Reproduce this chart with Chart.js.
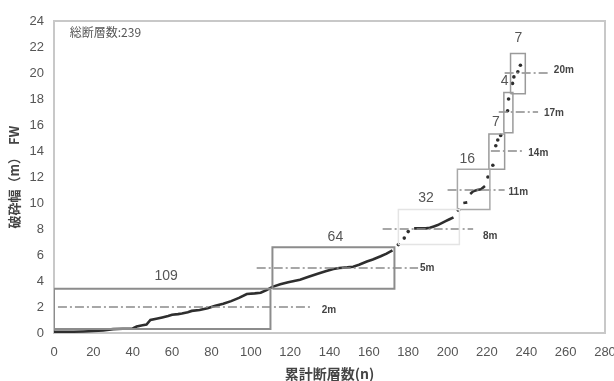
<!DOCTYPE html>
<html>
<head>
<meta charset="utf-8">
<script src="https://cdn.jsdelivr.net/npm/chart.js@4.4.1/dist/chart.umd.min.js"></script>
<style>
  html, body { margin: 0; padding: 0; background: #fff; }
  #wrap { width: 614px; height: 381px; }
</style>
</head>
<body>
<div id="wrap"><canvas id="grafik"></canvas></div>
<script>
// 累計断層数 n と 破砕幅 FW (null = 線の切れ目)
const curveN = [0, 5, 10, 15, 20, 25, 30, 35, 40, 42, 45, 47, 49, 52, 55, 58, 60, 63, 65, 68, 70, 74, 78, 82, 86, 90, 94, 98, 102, 105, 108, 111, 115, 119, 122, 125, 129, 134, 138, 142, 145, 149, 152, 155, 159, 162, 166, 169, 172,
  null, 183, 186, 189, 191, 193, 195, 197, 199, 201, 203,
  null, 208, 210,
  null, 211.5, 213, 215, 217, 219];
const curveFW = [0.1, 0.1, 0.1, 0.12, 0.15, 0.2, 0.3, 0.33, 0.35, 0.5, 0.6, 0.65, 1.0, 1.1, 1.2, 1.3, 1.4, 1.45, 1.5, 1.6, 1.7, 1.77, 1.9, 2.1, 2.25, 2.45, 2.7, 3.0, 3.05, 3.1, 3.3, 3.55, 3.75, 3.9, 4.0, 4.1, 4.3, 4.55, 4.75, 4.92, 5.0, 5.05, 5.1, 5.25, 5.5, 5.65, 5.9, 6.1, 6.35,
  null, 8.05, 8.05, 8.05, 8.1, 8.2, 8.3, 8.45, 8.6, 8.75, 8.9,
  null, 10.0, 10.05,
  null, 10.7, 10.9, 11.0, 11.05, 11.3];

// 上の方のばらばらな点
const dotN = [175, 178, 180, 205.5, 220.5, 223, 224.5, 225.5, 227, 230.5, 231, 233, 233.7, 235.7, 237];
const dotFW = [6.8, 7.3, 7.8, 9.45, 12.0, 12.9, 14.4, 14.85, 15.2, 17.1, 18.0, 19.2, 19.7, 20.1, 20.6];

// 区間の枠
const boxN0 = [0, 111, 175, 205, 221, 228.6, 232];
const boxN1 = [110, 173, 206, 221.5, 229, 233.2, 239.5];
const boxFW0 = [0.3, 3.4, 6.8, 9.5, 12.6, 15.4, 18.4];
const boxFW1 = [3.4, 6.6, 9.5, 12.6, 15.3, 18.5, 21.5];
const boxCount = ['109', '64', '32', '16', '7', '4', '7'];
const countN = [57, 143, 189, 210, 224.5, 229, 236];
const countFW = [4.4, 7.4, 10.4, 13.4, 16.2, 19.4, 22.7];

// 一点鎖線
const refFW = [2, 5, 8, 11, 14, 17, 20];
const refStart = [2, 103, 167, 200, 222, 226, 229];
const refEnd = [131, 185, 213, 229, 238, 246, 251];
const refText = ['2m', '5m', '8m', '11m', '14m', '17m', '20m'];
const refTextN = [136, 186, 218, 231, 241, 249, 254];
const refTextFW = [1.75, 5, 7.45, 10.85, 13.85, 16.9, 20.2];

const xTicks = [0, 20, 40, 60, 80, 100, 120, 140, 160, 180, 200, 220, 240, 260, 280];
const yTicks = [0, 2, 4, 6, 8, 10, 12, 14, 16, 18, 20, 22, 24];

const boxColors = ['#8c8c8c', '#8c8c8c', '#e4e4e4', '#a8a8a8', '#9a9a9a', '#9a9a9a', '#9a9a9a'];

const datasets = [];

boxN0.forEach((n0, i) => {
    const n1 = boxN1[i];
    const f0 = boxFW0[i];
    const f1 = boxFW1[i];
    datasets.push({
        data: [{x: n0, y: f0}, {x: n1, y: f0}, {x: n1, y: f1}, {x: n0, y: f1}, {x: n0, y: f0}],
        showLine: true,
        borderColor: boxColors[i],
        borderWidth: i < 2 ? 2 : 1.5,
        pointRadius: 0,
        fill: false
    });
});

refFW.forEach((fw, i) => {
    datasets.push({
        data: [{x: refStart[i], y: fw}, {x: refEnd[i], y: fw}],
        showLine: true,
        borderColor: '#8a8a8a',
        borderWidth: 1.3,
        borderDash: [9, 3, 2, 3],
        pointRadius: 0
    });
});

datasets.push({
    data: curveN.map((n, i) => ({x: n, y: curveFW[i]})),
    showLine: true,
    spanGaps: false,
    borderColor: '#2e2e2e',
    borderWidth: 2.6,
    pointRadius: 0
});

datasets.push({
    data: dotN.map((n, i) => ({x: n, y: dotFW[i]})),
    showLine: false,
    pointRadius: 1.8,
    pointBackgroundColor: '#2e2e2e',
    pointBorderWidth: 0
});

const notes = {
    id: 'notes',
    beforeDatasetsDraw(c) {
        const a = c.chartArea;
        const ctx = c.ctx;
        ctx.save();
        ctx.strokeStyle = '#c8c8c8';
        ctx.lineWidth = 2;
        ctx.strokeRect(a.left, a.top, a.right - a.left, a.bottom - a.top);
        ctx.restore();
    },
    afterDatasetsDraw(c) {
        const ctx = c.ctx;
        const sx = c.scales.x;
        const sy = c.scales.y;
        ctx.save();
        ctx.textBaseline = 'middle';

        ctx.fillStyle = '#555';
        ctx.textAlign = 'center';
        ctx.font = '14px "Liberation Sans", Arial, sans-serif';
        boxCount.forEach((t, i) => {
            ctx.fillText(t, sx.getPixelForValue(countN[i]), sy.getPixelForValue(countFW[i]));
        });

        ctx.fillStyle = '#444';
        ctx.textAlign = 'left';
        ctx.font = 'bold 10px "Liberation Sans", Arial, sans-serif';
        refText.forEach((t, i) => {
            ctx.fillText(t, sx.getPixelForValue(refTextN[i]), sy.getPixelForValue(refTextFW[i]));
        });

        ctx.fillStyle = '#555';
        ctx.font = '12px "Noto Sans CJK JP", sans-serif';
        ctx.fillText('総断層数:239', sx.getPixelForValue(8), sy.getPixelForValue(23.1));
        ctx.restore();
    }
};

new Chart(document.getElementById('grafik'), {
    type: 'scatter',
    data: {datasets: datasets},
    plugins: [notes],
    options: {
        responsive: true,
        maintainAspectRatio: false,
        animation: false,
        layout: {padding: {top: 21, left: 8, right: 9, bottom: 0}},
        plugins: {
            legend: {display: false},
            tooltip: {enabled: false}
        },
        scales: {
            x: {
                type: 'linear',
                min: 0,
                max: 280,
                afterBuildTicks: s => { s.ticks = xTicks.map(v => ({value: v})); },
                afterFit: s => { s.height = 48; s.paddingLeft = 0; s.paddingRight = 0; },
                grid: {display: false, drawTicks: false},
                border: {display: false},
                ticks: {color: '#555', padding: 12, maxRotation: 0, font: {size: 13, family: '"Liberation Sans", Arial, sans-serif'}},
                title: {
                    display: true,
                    text: '累計断層数(n)',
                    color: '#444',
                    font: {size: 14, weight: 'bold', family: '"Noto Sans CJK JP", sans-serif', lineHeight: 1},
                    padding: {top: 0, bottom: 0}
                }
            },
            y: {
                min: 0,
                max: 24,
                afterBuildTicks: s => { s.ticks = yTicks.map(v => ({value: v})); },
                afterFit: s => { s.width = 46; s.paddingTop = 0; s.paddingBottom = 0; },
                grid: {display: false, drawTicks: false},
                border: {display: false},
                ticks: {color: '#555', padding: 10, font: {size: 13, family: '"Liberation Sans", Arial, sans-serif'}},
                title: {
                    display: true,
                    text: '破砕幅（m）  FW',
                    color: '#444',
                    font: {size: 13, weight: 'bold', family: '"Noto Sans CJK JP", sans-serif', lineHeight: 1},
                    padding: {top: 0, bottom: 0}
                }
            }
        }
    }
});
</script>
</body>
</html>
